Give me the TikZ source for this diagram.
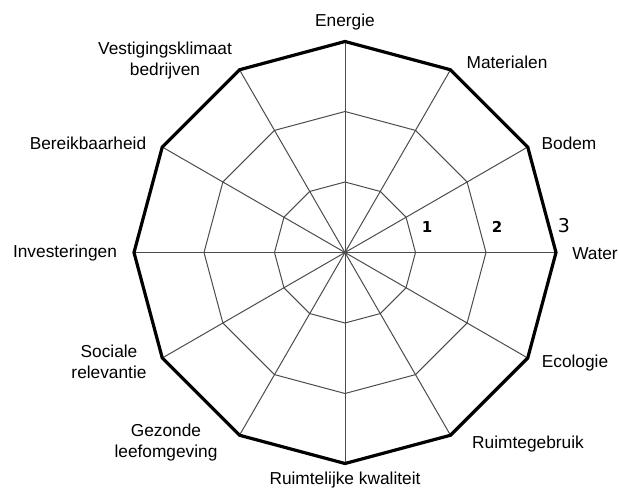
\documentclass[tikz,border=0pt]{standalone}
\usepackage{fontspec}
\usetikzlibrary{calc}
\setmainfont{Liberation Sans}
\newfontfamily\numfont{DejaVu Sans}
\begin{document}
\begin{tikzpicture}[x=1pt,y=1pt,
  grid/.style={draw=black!70,line width=1pt},
  outer/.style={draw=black,line width=3.2pt,line join=miter},
  lab/.style={font=\fontsize{17.3}{21}\selectfont,align=center,inner sep=0pt},
  num/.style={font=\numfont\bfseries\fontsize{15}{17}\selectfont,inner sep=0pt},
  bignum/.style={font=\numfont\fontsize{19}{21}\selectfont,inner sep=0pt}]
\useasboundingbox (0,0) rectangle (619,491);
\coordinate (c) at (345,238.5);
\foreach \i in {0,...,11} {
  \coordinate (v\i) at ($(c)+({90-30*\i}:211)$);
}
% rings
\foreach \r in {70.5,141} {
  \draw[grid] ($(c)+(90:\r)$) \foreach \k in {1,...,11} { -- ($(c)+({90-30*\k}:\r)$) } -- cycle;
}
% spokes
\foreach \i in {0,...,11} { \draw[grid] (c) -- (v\i); }
% outer ring
\draw[outer] (v0) -- (v1) -- (v2) -- (v3) -- (v4) -- (v5) -- (v6) -- (v7) -- (v8) -- (v9) -- (v10) -- (v11) -- cycle;
% labels
\node[lab] (l0) at (345,469) {Energie};
\node[lab] (l1) at (507,429) {Materialen};
\node[lab] (l2) at (569,348) {Bodem};
\node[lab] (l3) at (595,237) {Water};
\node[lab] (l4) at (575,128) {Ecologie};
\node[lab] (l5) at (528,47) {Ruimtegebruik};
\node[lab] (l6) at (345,11) {Ruimtelijke kwaliteit};
\node[lab] (l7) at (166,48) {Gezonde\\leefomgeving};
\node[lab] (l8) at (109,129) {Sociale\\relevantie};
\node[lab] (l9) at (65,238) {Investeringen};
\node[lab] (l10) at (88,348) {Bereikbaarheid};
\node[lab] (l11) at (165,430) {Vestigingsklimaat\\bedrijven};
% scale numbers
\node[num] (n1) at (427,264) {1};
\node[num] (n2) at (497,264) {2};
\node[bignum] (n3) at (564,265) {3};
\end{tikzpicture}
\end{document}
